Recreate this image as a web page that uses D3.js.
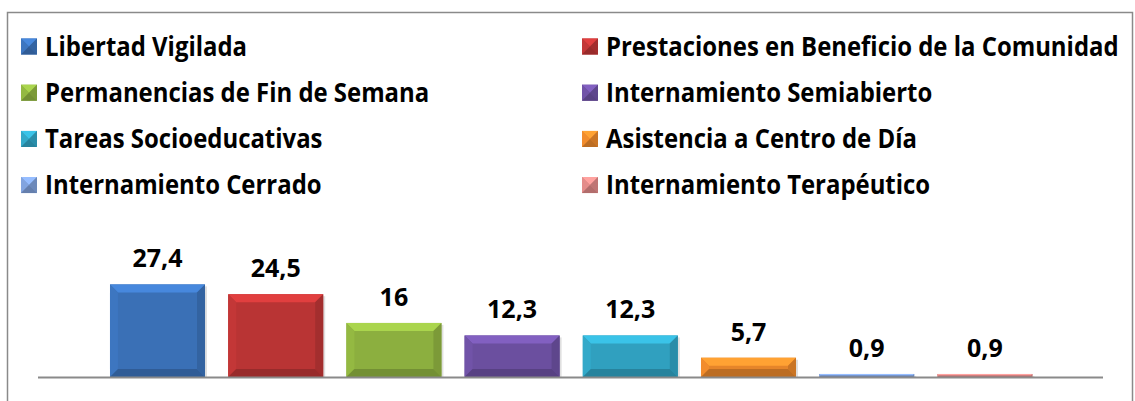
<!DOCTYPE html>
<html>
<head>
<meta charset="utf-8">
<script src="https://cdn.jsdelivr.net/npm/d3@7"></script>
<style>
  html, body { margin: 0; padding: 0; background: #ffffff; }
  svg { display: block; }
  text { font-family: "Open Sans", "Noto Sans", sans-serif; font-weight: bold; fill: #000; }
</style>
</head>
<body>
<svg id="chart" width="1135" height="401"></svg>
<script>
// Medidas judiciales (%)
const series = [
  "Libertad Vigilada",
  "Prestaciones en Beneficio de la Comunidad",
  "Permanencias de Fin de Semana",
  "Internamiento Semiabierto",
  "Tareas Socioeducativas",
  "Asistencia a Centro de Día",
  "Internamiento Cerrado",
  "Internamiento Terapéutico"
];
const values = [27.4, 24.5, 16, 12.3, 12.3, 5.7, 0.9, 0.9];
const valueLabels = ["27,4", "24,5", "16", "12,3", "12,3", "5,7", "0,9", "0,9"];
const colors = ["#3a70b6", "#b93434", "#8caf3f", "#6b4f9f", "#30a0bf", "#e5852a", "#7b9bd3", "#d88583"];

const svg = d3.select("#chart");

// chart frame
svg.append("rect")
  .attr("x", 7.5).attr("y", 12.5)
  .attr("width", 1125).attr("height", 400)
  .attr("fill", "#fff").attr("stroke", "#8a8a8a").attr("stroke-width", 1.5);

// scales
const x = d3.scaleBand().domain(series).range([98.4, 1044]).paddingInner(0.196).paddingOuter(0.098);
const y = d3.scaleLinear().domain([0, 30]).range([377, 275.6]);

// bevelled box: face + four edge facets
function bevel(g, bx, by, w, h, b, base) {
  const c = d3.color(base);
  const light = c.brighter(0.55).formatHex();
  const lightSide = c.brighter(0.15).formatHex();
  const darkSide = c.darker(0.35).formatHex();
  const dark = c.darker(0.55).formatHex();
  g.append("rect").attr("x", bx).attr("y", by).attr("width", w).attr("height", h)
    .attr("fill", base);
  const pts = (arr) => arr.map(p => p.join(",")).join(" ");
  g.append("polygon").attr("fill", light)
    .attr("points", pts([[bx, by], [bx + w, by], [bx + w - b, by + b], [bx + b, by + b]]));
  g.append("polygon").attr("fill", lightSide)
    .attr("points", pts([[bx, by], [bx + b, by + b], [bx + b, by + h - b], [bx, by + h]]));
  g.append("polygon").attr("fill", darkSide)
    .attr("points", pts([[bx + w, by], [bx + w, by + h], [bx + w - b, by + h - b], [bx + w - b, by + b]]));
  g.append("polygon").attr("fill", dark)
    .attr("points", pts([[bx, by + h], [bx + b, by + h - b], [bx + w - b, by + h - b], [bx + w, by + h]]));
}

// bars
const bars = svg.append("g");
series.forEach((s, i) => {
  const g = bars.append("g");
  const bx = x(s), w = x.bandwidth();
  const by = y(values[i]), h = y(0) - y(values[i]);
  // soft shadow on the right
  g.append("rect").attr("x", bx + 2).attr("y", by + 2).attr("width", w).attr("height", h - 2)
    .attr("fill", "#000").attr("opacity", 0.12);
  bevel(g, bx, by, w, h, Math.min(8, h / 2), colors[i]);
});

// baseline
svg.append("line")
  .attr("x1", 38).attr("x2", 1103)
  .attr("y1", y(0) + 0.5).attr("y2", y(0) + 0.5)
  .attr("stroke", "#8a8a8a").attr("stroke-width", 2);

// value labels
svg.append("g").selectAll("text").data(series).join("text")
  .attr("x", d => x(d) + x.bandwidth() / 2)
  .attr("y", (d, i) => y(values[i]) - 17)
  .attr("text-anchor", "middle")
  .style("font-size", "25px")
  .text((d, i) => valueLabels[i]);

// legend (two columns, four rows), text condensed horizontally
const legend = svg.append("g");
series.forEach((s, i) => {
  const col = i % 2, row = Math.floor(i / 2);
  const lx = col === 0 ? 21 : 582;
  const cy = 46.5 + row * 46.2;
  const g = legend.append("g");
  bevel(g, lx, cy - 8, 16, 16, 8, colors[i]);
  g.append("text")
    .attr("transform", `translate(${lx + 24},${cy}) scale(0.92,1)`)
    .attr("dy", "0.36em")
    .style("font-size", "26px")
    .text(s);
});
</script>
</body>
</html>
